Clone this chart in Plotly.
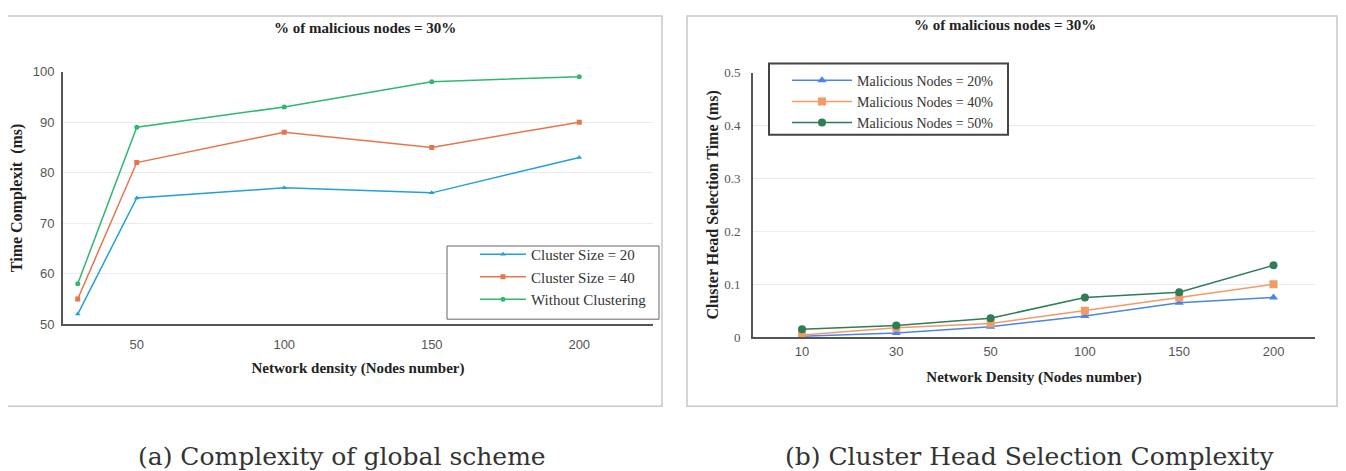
import plotly.graph_objects as go

# ---- data: panel (a)
a_x = [30, 50, 100, 150, 200]
a_x_ticks = [50, 100, 150, 200]
a_cluster20 = [52, 75, 77, 76, 83]
a_cluster40 = [55, 82, 88, 85, 90]
a_noclust = [58, 89, 93, 98, 99]
a_names = ["Cluster Size = 20", "Cluster Size = 40", "Without Clustering"]

# ---- data: panel (b)
b_x = ["10", "30", "50", "100", "150", "200"]
b_mal20 = [0.002, 0.008, 0.02, 0.04, 0.065, 0.075]
b_mal40 = [0.004, 0.018, 0.026, 0.05, 0.075, 0.1]
b_mal50 = [0.015, 0.022, 0.036, 0.075, 0.085, 0.136]
b_names = ["Malicious Nodes = 20%", "Malicious Nodes = 40%", "Malicious Nodes = 50%"]

W, H = 1330, 471
def px(x): return (x - 8) / W
def py(y):
    f = (y - 14.5) / 0.966
    f = max(f, 1.0)
    return 1 - f / H

fig = go.Figure()

a_cols = ["#23a0d8", "#e8744a", "#2fb86e"]
a_syms = ["triangle-up", "square", "circle"]
for ys, nm, c, s in zip([a_cluster20, a_cluster40, a_noclust], a_names, a_cols, a_syms):
    fig.add_trace(go.Scatter(x=a_x, y=ys, name=nm, mode="lines+markers",
                             line=dict(color=c, width=1.5),
                             marker=dict(symbol=s, size=5, color=c),
                             xaxis="x", yaxis="y", legend="legend"))

b_cols = ["#4a86e8", "#f49a66", "#2e7d57"]
b_syms = ["triangle-up", "square", "circle"]
for ys, nm, c, s in zip([b_mal20, b_mal40, b_mal50], b_names, b_cols, b_syms):
    fig.add_trace(go.Scatter(x=b_x, y=ys, name=nm, mode="lines+markers",
                             line=dict(color=c, width=1.5),
                             marker=dict(symbol=s, size=8, color=c),
                             xaxis="x2", yaxis="y2", legend="legend2"))

SERIF = "Liberation Serif"
tickfont = dict(family="Liberation Sans", size=13, color="#555")
tickfont_b = dict(family=SERIF, size=13, color="#555")
titlefont = dict(family=SERIF, size=15, color="#222", weight="bold")
ytitlefont = dict(family=SERIF, size=16, color="#222", weight="bold")

fig.update_layout(
    width=W, height=H,
    margin=dict(l=0, r=0, t=0, b=0),
    paper_bgcolor="white", plot_bgcolor="white",
    xaxis=dict(domain=[px(63), px(653)], range=[25, 225], tickvals=a_x_ticks,
               showgrid=False, zeroline=False, showline=True, linecolor="#555", linewidth=2,
               tickfont=tickfont, ticks="", ticklabelstandoff=7, anchor="y",
               title=dict(text="Network density (Nodes number)", font=titlefont, standoff=12)),
    yaxis=dict(domain=[py(323), py(71)], range=[50, 100], dtick=10,
               showgrid=True, gridcolor="#ebebeb", zeroline=False, showline=True,
               linecolor="#555", linewidth=2, tickfont=tickfont, ticks="", ticklabelstandoff=4,
               anchor="x",
               title=dict(text="Time Complexit  (ms)", font=ytitlefont, standoff=8)),
    xaxis2=dict(domain=[px(753), px(1315)], range=[-0.52, 5.44], type="category",
                showgrid=False, zeroline=False, showline=True, linecolor="#555", linewidth=2,
                tickfont=tickfont, ticks="", ticklabelstandoff=1, anchor="y2",
                title=dict(text="Network Density (Nodes number)", font=titlefont, standoff=14)),
    yaxis2=dict(domain=[py(336), py(72)], range=[0, 0.5], dtick=0.1,
                showgrid=True, gridcolor="#ebebeb", zeroline=False, showline=True,
                linecolor="#555", linewidth=2, tickfont=tickfont_b, ticks="", ticklabelstandoff=8,
                anchor="x2",
                title=dict(text="Cluster Head Selection Time (ms)", font=ytitlefont, standoff=2)),
    legend=dict(x=px(475), y=py(237), xanchor="left", yanchor="top",
                borderwidth=0, bgcolor="rgba(255,255,255,0)",
                font=dict(family=SERIF, size=15, color="#333"),
                itemwidth=46, tracegroupgap=0),
    legend2=dict(x=px(787), y=py(64), xanchor="left", yanchor="top",
                 borderwidth=0, bgcolor="rgba(255,255,255,0)",
                 font=dict(family=SERIF, size=14, color="#333"),
                 itemwidth=60, tracegroupgap=0),
    showlegend=True,
)

# panel frames
for x0, x1 in [(7, 662), (687, 1337)]:
    fig.add_shape(type="rect", xref="paper", yref="paper",
                  x0=px(x0), x1=px(x1), y0=py(405), y1=py(8),
                  line=dict(color="#c8c8c8", width=1.5), fillcolor="rgba(0,0,0,0)", layer="below")

# legend boxes
fig.add_shape(type="rect", xref="paper", yref="paper",
              x0=px(447), x1=px(659), y0=py(318), y1=py(245),
              line=dict(color="#666", width=1), fillcolor="white", layer="above")
fig.add_shape(type="rect", xref="paper", yref="paper",
              x0=px(769), x1=px(1008), y0=py(134), y1=py(63),
              line=dict(color="#444", width=2), fillcolor="white", layer="above")

# panel titles
for xc, yc in [(365, 27), (1005, 24)]:
    fig.add_annotation(text="% of malicious nodes = 30%", xref="paper", yref="paper",
                       x=px(xc), y=py(yc), showarrow=False, xanchor="center", yanchor="middle",
                       font=titlefont)

# captions
for txt, xc in [("(a) Complexity of global scheme", 342), ("(b) Cluster Head Selection Complexity", 1030)]:
    fig.add_annotation(text=txt, xref="paper", yref="paper", x=px(xc), y=py(455),
                       showarrow=False, xanchor="center", yanchor="middle",
                       font=dict(family="DejaVu Serif", size=25, color="#333"))

fig.write_html("out.html")
